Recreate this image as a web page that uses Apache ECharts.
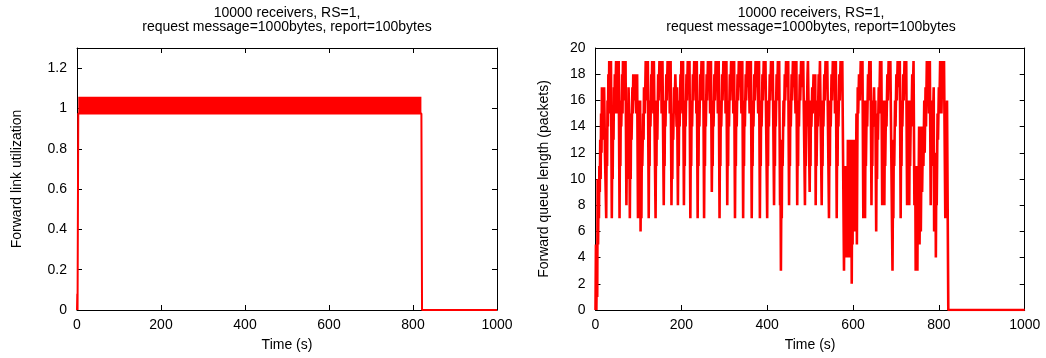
<!DOCTYPE html>
<html><head><meta charset="utf-8">
<script src="https://cdn.jsdelivr.net/npm/echarts@6/dist/echarts.min.js"></script>
<style>html,body{margin:0;padding:0;background:#fff}#c{width:1046px;height:358px}</style>
</head><body><div id="c"></div>
<script>
const titleText = '10000 receivers, RS=1,\nrequest message=1000bytes, report=100bytes';
const xLabel = 'Time (s)';
const yLabelLeft = 'Forward link utilization';
const yLabelRight = 'Forward queue length (packets)';
const xRange = {min: 0, max: 1000, interval: 200};
const utilRange = {min: 0, max: 1.3, interval: 0.2};
const queueRange = {min: 0, max: 20, interval: 2};

// Forward link utilization: main trace
const utilLine = [[0,0],[0.7,0.08],[1.3,0],[3,0.975],[820,0.975],[821.5,0],[1000,0]];
// rapid oscillation band of the utilization (min / max envelope)
const utilBandTime = [3, 820];
const utilBandValue = [0.975, 1.058];

// Forward queue length (packets): [time s, packets]
const queueData = [
[0,0],[1,5],[2,0],[3,3],[4,1],[5,10],[6,5],[7,9],[8,7],[9,11],[10,9],[11,13],[12,10],[13,15],[14,12],[15,17],[17,15],[18,17],[19,13],[20,17],[21,15],[22,12],
[25,7],[26,13],[27,11],[28,16],[29,14],[30,18],[31,15],[32,19],[34,19],[35,16],[36,19],
[38,7],[39,12],[40,10],[41,15],[42,13],[43,17],[44,15],[45,18],[46,16],[48,19],[49,15],[50,19],[52,17],[54,19],
[56,7],[57,13],[58,11],[59,16],[60,14],[62,18],[63,15],[64,19],[66,17],[68,19],[69,16],[70,19],
[72,8],[73,12],[74,10],[75,15],[76,13],[77,17],[78,17],[79,14],[80,7],[81,12],[82,10],[83,15],[84,13],[86,17],[87,15],[88,18],[90,16],[92,18],[94,18],[95,15],[97,18],
[99,7],[100,12],[101,10],[102,16],[103,13],[104,16],[105,6],[106,11],[107,7],[108,13],[109,11],[111,15],[112,13],[113,17],[115,15],[117,19],[118,17],[120,19],[121,16],[122,19],
[124,7],[125,13],[126,11],[127,16],[128,14],[130,18],[131,16],[132,19],[134,19],[135,15],[136,19],[138,19],
[140,7],[141,13],[142,11],[143,16],[144,13],[146,18],[147,16],[149,19],[151,17],[153,19],[154,15],[156,19],[157,19],
[159,8],[160,13],[161,11],[162,16],[163,14],[165,18],[166,16],[168,19],[170,17],[172,19],[173,15],[175,19],
[177,8],[178,12],[179,10],[180,15],[181,13],[183,17],[184,15],[186,18],[188,18],[189,14],[190,17],
[192,8],[193,13],[194,11],[195,16],[196,14],[198,18],[199,16],[200,19],[202,19],[203,15],[204,19],
[206,8],[207,13],[208,11],[209,16],[210,14],[212,18],[213,16],[215,19],[217,17],[219,19],
[221,7],[222,13],[223,11],[224,16],[225,14],[227,18],[228,16],[230,19],[232,17],[234,19],[235,15],[236,19],
[238,7],[239,13],[240,11],[241,16],[242,14],[244,18],[245,16],[247,19],[249,16],[251,19],
[253,7],[254,13],[255,11],[256,16],[257,14],[259,18],[260,16],[262,19],[264,17],[266,19],[267,15],[269,19],
[271,9],[272,13],[273,11],[274,16],[275,14],[277,18],[278,16],[280,19],[282,17],[284,19],[285,15],[287,19],
[289,7],[290,13],[291,11],[292,16],[293,14],[295,18],[296,16],[298,19],[300,17],[302,19],[303,15],[305,19],
[307,8],[308,13],[309,11],[310,16],[311,14],[313,18],[314,16],[316,19],[318,17],[320,19],[321,15],[323,19],
[325,7],[326,13],[327,11],[328,16],[329,14],[331,18],[332,16],[334,19],[336,17],[338,19],[340,15],[342,19],
[344,7],[345,13],[346,11],[347,16],[348,14],[350,18],[351,16],[353,19],[355,17],[357,19],[359,15],[362,19],
[364,7],[365,13],[366,11],[367,16],[368,14],[370,18],[371,16],[373,19],[375,17],[377,19],[379,15],[381,19],
[383,7],[384,13],[385,11],[386,16],[387,14],[389,18],[390,16],[392,19],[394,17],[396,19],[398,19],
[400,7],[401,13],[402,11],[403,16],[404,14],[406,18],[407,16],[409,19],[411,17],[413,19],[414,19],
[416,8],[417,13],[418,11],[419,16],[420,14],[422,18],[423,16],[425,19],[427,17],[428,19],
[430,8],[431,11],[432,3],[433,9],[434,7],[435,13],[436,11],[438,16],[439,14],[441,18],[442,16],[444,19],[446,17],[449,19],
[451,8],[452,13],[453,11],[454,16],[455,14],[457,18],[458,16],[460,19],[462,17],[464,19],[466,15],[468,19],
[470,8],[471,13],[472,11],[473,16],[474,14],[476,18],[477,16],[479,19],[481,17],[484,19],[486,19],
[488,8],[489,13],[490,11],[491,16],[492,14],[494,18],[495,19],[497,19],
[499,9],[500,13],[501,11],[502,16],[503,14],[505,17],[506,15],[508,18],[510,16],[512,18],[513,8],[514,13],[515,11],[517,16],[518,14],[520,18],[521,16],[523,19],[525,19],
[527,8],[528,13],[529,11],[530,16],[531,14],[533,18],[534,16],[536,19],[538,17],[540,19],[542,19],
[544,7],[545,13],[546,11],[547,16],[548,14],[550,18],[551,16],[553,19],[555,17],[557,19],[558,15],[560,19],
[562,7],[563,13],[564,11],[565,16],[566,14],[568,18],[569,16],[571,19],[573,17],[575,19],[577,19],
[579,3],[580,9],[581,4],[582,11],[583,6],[584,10],[585,4],[586,11],[587,5],[588,13],[589,8],[590,12],[591,4],[592,10],[593,6],[594,13],[595,9],[596,12],[597,2],[598,10],[599,5],[600,13],[601,8],[602,12],[603,6],[604,11],[605,8],[606,13],[607,10],[608,15],[609,5],[610,12],[611,17],[612,15],[614,18],[616,16],[618,19],[620,17],[622,19],
[624,7],[625,13],[626,11],[627,16],[628,7],[629,13],[630,11],[632,16],[633,14],[635,18],[636,16],[638,19],[640,17],[641,19],
[643,8],[644,13],[645,11],[646,16],[647,14],[649,17],[650,15],[652,16],[654,6],[655,12],[656,10],[657,15],[658,13],[660,17],[661,15],[663,19],[665,17],[666,19],
[668,8],[669,13],[670,11],[671,16],[672,14],[673,8],[674,13],[675,11],[677,16],[678,14],[680,18],[681,16],[683,19],[685,17],[687,19],[689,19],
[691,6],[692,3],[693,9],[694,7],[695,13],[696,11],[698,16],[699,14],[701,18],[702,16],[704,19],[706,17],[709,19],
[711,7],[712,13],[713,11],[714,16],[715,14],[717,18],[718,16],[720,19],[722,17],[724,19],
[726,8],[727,13],[728,11],[729,16],[730,14],[731,8],[732,13],[733,11],[735,16],[736,14],[738,18],[739,16],[741,19],
[743,8],[745,11],[746,3],[747,9],[748,6],[749,11],[750,3],[751,10],[752,6],[754,14],[755,5],[757,12],[758,6],[760,14],[761,9],[763,14],[764,11],[766,16],[767,12],[769,17],[770,14],[772,19],[774,17],[775,19],[777,15],[779,19],
[781,8],[782,13],[783,11],[785,16],[786,14],[788,17],[789,6],[790,12],[791,10],[792,12],[793,4],[794,10],[795,8],[797,15],[798,13],[800,17],[801,15],[803,19],[805,19],[806,15],[808,19],[810,17],[812,19],[814,19],[815,7],[817,12],[819,16],[820,16],[821,16],[822,0],[1000,0]
];

const FONT = 'Liberation Sans, Arial, sans-serif';
const RED = '#ff0000';
const txt = {color: '#000', fontFamily: FONT, fontSize: 14};

function axis(base, extra) {
  return Object.assign({
    type: 'value',
    axisLine: {show: true, onZero: false, lineStyle: {color: '#000', width: 1}},
    axisTick: {show: true, inside: true, length: 5, lineStyle: {color: '#000', width: 1}},
    splitLine: {show: false},
    axisLabel: {show: false},
    nameTextStyle: txt
  }, base, extra);
}

const grids = [
  {left: 77, right: 549, top: 48, bottom: 48},
  {left: 595.5, right: 21.3, top: 48, bottom: 48}
];
const plain = v => String(v);

const option = {
  animation: false,
  backgroundColor: '#fff',
  title: [
    {text: titleText, left: 287, top: 6, textAlign: 'center', padding: 0,
     textStyle: {fontSize: 14, fontWeight: 'normal', lineHeight: 14, color: '#000', fontFamily: FONT}},
    {text: titleText, left: 811, top: 6, textAlign: 'center', padding: 0,
     textStyle: {fontSize: 14, fontWeight: 'normal', lineHeight: 14, color: '#000', fontFamily: FONT}}
  ],
  grid: grids,
  xAxis: [
    axis(xRange, {gridIndex: 0, position: 'bottom', name: xLabel, nameLocation: 'middle', nameGap: 28,
      axisLabel: Object.assign({show: true, margin: 8, formatter: plain}, txt)}),
    axis(xRange, {gridIndex: 0, position: 'top'}),
    axis(xRange, {gridIndex: 1, position: 'bottom', name: xLabel, nameLocation: 'middle', nameGap: 28,
      axisLabel: Object.assign({show: true, margin: 8, formatter: plain}, txt)}),
    axis(xRange, {gridIndex: 1, position: 'top'})
  ],
  yAxis: [
    axis(utilRange, {gridIndex: 0, position: 'left', name: yLabelLeft, nameLocation: 'middle', nameGap: 53,
      axisLabel: Object.assign({show: true, margin: 10, showMaxLabel: false,
        formatter: v => (v > 1.25 ? '' : String(+v.toFixed(1)))}, txt)}),
    axis(utilRange, {gridIndex: 0, position: 'right'}),
    axis(queueRange, {gridIndex: 1, position: 'left', name: yLabelRight, nameLocation: 'middle', nameGap: 44,
      axisLabel: Object.assign({show: true, margin: 10, formatter: plain}, txt)}),
    axis(queueRange, {gridIndex: 1, position: 'right'})
  ],
  series: [
    {
      type: 'line', xAxisIndex: 0, yAxisIndex: 0, data: utilLine,
      showSymbol: false, symbol: 'none', lineStyle: {color: RED, width: 2}, itemStyle: {color: RED},
      markArea: {silent: true, itemStyle: {color: RED, opacity: 1},
        data: [[{xAxis: utilBandTime[0], yAxis: utilBandValue[0]}, {xAxis: utilBandTime[1], yAxis: utilBandValue[1]}]]}
    },
    {
      type: 'line', xAxisIndex: 2, yAxisIndex: 2, data: queueData,
      showSymbol: false, symbol: 'none', lineStyle: {color: RED, width: 2.6}, itemStyle: {color: RED}
    }
  ]
};
const chart = echarts.init(document.getElementById('c'), null, {renderer: 'canvas'});
chart.setOption(option);
</script></body></html>
